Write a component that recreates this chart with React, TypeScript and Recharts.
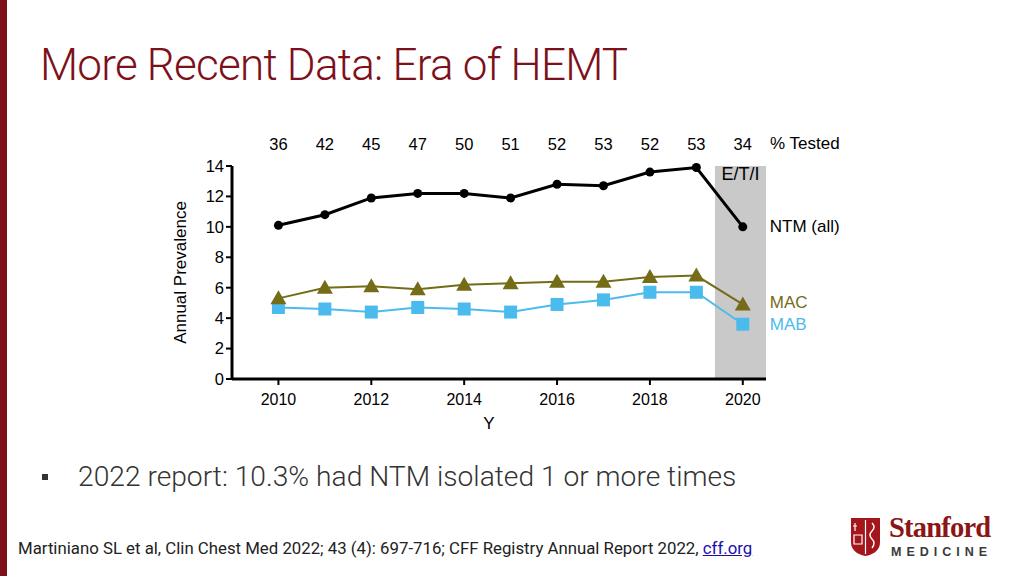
import React from 'react';
import {
  LineChart,
  Line,
  XAxis,
  YAxis,
  ReferenceArea,
  LabelList,
} from 'recharts';

const years = [2010, 2011, 2012, 2013, 2014, 2015, 2016, 2017, 2018, 2019, 2020];
const pctTested = [36, 42, 45, 47, 50, 51, 52, 53, 52, 53, 34];
const ntmAll = [10.1, 10.8, 11.9, 12.2, 12.2, 11.9, 12.8, 12.7, 13.6, 13.9, 10.0];
const macValues = [5.3, 6.0, 6.1, 5.9, 6.2, 6.3, 6.4, 6.4, 6.7, 6.8, 4.9];
const mabValues = [4.7, 4.6, 4.4, 4.7, 4.6, 4.4, 4.9, 5.2, 5.7, 5.7, 3.6];
const yTicks = [0, 2, 4, 6, 8, 10, 12, 14];
const xTicks = [2010, 2012, 2014, 2016, 2018, 2020];

const colors = {
  cardinal: '#7d1019',
  ntm: '#000000',
  mac: '#756c17',
  mab: '#4bbbee',
  band: '#c9c9c9',
  text: '#333333',
};

const chartFont = '"Liberation Sans", Arial, sans-serif';

const data = years.map((year, i) => ({
  year,
  tested: pctTested[i],
  ntm: ntmAll[i],
  mac: macValues[i],
  mab: mabValues[i],
}));

const lastIdx = years.length - 1;

function endLabel(text: string, color: string, dy = 0) {
  return (props: any) => {
    if (props.index !== lastIdx) return null;
    return (
      <text
        x={props.x + 27}
        y={props.y + dy}
        fill={color}
        fontSize={17}
        fontFamily={chartFont}
        dominantBaseline="central"
      >
        {text}
      </text>
    );
  };
}

const circleDot = (props: any) => (
  <circle key={`ntm-${props.index}`} cx={props.cx} cy={props.cy} r={4.5} fill={colors.ntm} />
);

const triangleDot = (props: any) => {
  const { cx, cy } = props;
  return (
    <polygon
      key={`mac-${props.index}`}
      points={`${cx},${cy - 8} ${cx - 8},${cy + 6} ${cx + 8},${cy + 6}`}
      fill={colors.mac}
    />
  );
};

const squareDot = (props: any) => (
  <rect
    key={`mab-${props.index}`}
    x={props.cx - 6.5}
    y={props.cy - 6.5}
    width={13}
    height={13}
    fill={colors.mab}
  />
);

function StanfordLogo() {
  return (
    <div style={{ position: 'absolute', left: 850, top: 517, width: 150, height: 46 }}>
      <svg width={32} height={40} style={{ position: 'absolute', left: 0, top: 0 }}>
        <path d="M1 1 H30 V25 Q30 36 15.5 39 Q1 36 1 25 Z" fill="#a4161c" />
        <path d="M15.5 3 V37" stroke="#fff" strokeWidth={1.2} />
        <path d="M5 6 V14 M3 9 H7 M4 18 H12 V27 H4 Z" stroke="#fff" strokeWidth={1.2} fill="none" />
        <path d="M22 6 Q26 10 22 14 Q18 18 22 22 Q26 26 22 31" stroke="#fff" strokeWidth={1.4} fill="none" />
      </svg>
      <div
        style={{
          position: 'absolute',
          left: 39,
          top: -5,
          fontFamily: '"Liberation Serif", "DejaVu Serif", serif',
          fontSize: 28.5,
          fontWeight: 700,
          color: '#8c1515',
          letterSpacing: -0.8,
        }}
      >
        Stanford
      </div>
      <div
        style={{
          position: 'absolute',
          left: 41,
          top: 28,
          fontFamily: '"Liberation Sans", Arial, sans-serif',
          fontSize: 12.5,
          fontWeight: 700,
          color: '#3a3a3a',
          letterSpacing: 5,
        }}
      >
        MEDICINE
      </div>
    </div>
  );
}

export default function App() {
  return (
    <div
      style={{
        position: 'absolute',
        left: 0,
        top: 0,
        width: 1024,
        height: 576,
        background: '#fff',
        overflow: 'hidden',
      }}
    >
      <div
        style={{
          position: 'absolute',
          left: 0,
          top: 0,
          width: 7,
          height: 576,
          background: colors.cardinal,
        }}
      />
      <div
        style={{
          position: 'absolute',
          left: 40,
          top: 39,
          fontFamily: 'Roboto, sans-serif',
          fontWeight: 300,
          fontSize: 44,
          letterSpacing: -0.75,
          color: colors.cardinal,
          whiteSpace: 'nowrap',
        }}
      >
        More Recent Data: Era of HEMT
      </div>

      <div style={{ position: 'absolute', left: 0, top: 0 }}>
        <LineChart
          width={1024}
          height={576}
          data={data}
          margin={{ top: 120, right: 258, bottom: 142, left: 172 }}
        >
          <XAxis
            xAxisId="top"
            orientation="top"
            dataKey="year"
            type="number"
            domain={[2009, 2020.5]}
            ticks={years}
            tickFormatter={(v: number) => String(pctTested[years.indexOf(v)] ?? '')}
            axisLine={false}
            tickLine={false}
            tickMargin={10}
            height={46}
            tick={{ fill: '#000', fontSize: 16.5, fontFamily: chartFont }}
            label={{
              value: '% Tested',
              position: 'right',
              offset: 4,
              fill: '#000',
              fontSize: 17,
              fontFamily: chartFont,
            }}
          />
          <XAxis
            dataKey="year"
            type="number"
            domain={[2009, 2020.5]}
            ticks={xTicks}
            height={55}
            axisLine={{ stroke: '#000', strokeWidth: 3 }}
            tickLine={{ stroke: '#000', strokeWidth: 2 }}
            tickSize={6}
            tickMargin={9}
            tick={{ fill: '#000', fontSize: 16, fontFamily: chartFont }}
            label={{
              value: 'Y',
              position: 'insideBottom',
              offset: 5,
              dx: -10,
              fill: '#000',
              fontSize: 17,
              fontFamily: chartFont,
            }}
          />
          <YAxis
            domain={[0, 14]}
            ticks={yTicks}
            width={60}
            axisLine={{ stroke: '#000', strokeWidth: 3 }}
            tickLine={{ stroke: '#000', strokeWidth: 2 }}
            tickSize={6}
            tick={{ fill: '#000', fontSize: 16.5, fontFamily: chartFont }}
            label={{
              value: 'Annual Prevalence',
              angle: -90,
              position: 'insideLeft',
              offset: 8,
              style: { textAnchor: 'middle' },
              fill: '#000',
              fontSize: 17,
              fontFamily: chartFont,
            }}
          />
          <ReferenceArea
            x1={2019.4}
            x2={2020.5}
            y1={0}
            y2={14}
            fill={colors.band}
            fillOpacity={1}
            stroke="none"
            label={{
              value: 'E/T/I',
              position: 'insideTop',
              offset: 1,
              fill: '#000',
              fontSize: 18,
              fontFamily: chartFont,
            }}
          />
          <Line
            type="linear"
            dataKey="mab"
            stroke={colors.mab}
            strokeWidth={2}
            dot={squareDot}
            activeDot={false}
            isAnimationActive={false}
          >
            <LabelList dataKey="mab" content={endLabel('MAB', colors.mab)} />
          </Line>
          <Line
            type="linear"
            dataKey="mac"
            stroke={colors.mac}
            strokeWidth={2}
            dot={triangleDot}
            activeDot={false}
            isAnimationActive={false}
          >
            <LabelList dataKey="mac" content={endLabel('MAC', colors.mac, -2)} />
          </Line>
          <Line
            type="linear"
            dataKey="ntm"
            stroke={colors.ntm}
            strokeWidth={3}
            dot={circleDot}
            activeDot={false}
            isAnimationActive={false}
          >
            <LabelList dataKey="ntm" content={endLabel('NTM (all)', colors.ntm)} />
          </Line>
        </LineChart>
      </div>

      <div
        style={{
          position: 'absolute',
          left: 42,
          top: 474,
          width: 6,
          height: 6,
          background: '#333',
        }}
      />
      <div
        style={{
          position: 'absolute',
          left: 78,
          top: 460,
          fontFamily: 'Roboto, sans-serif',
          fontWeight: 300,
          fontSize: 28.2,
          color: colors.text,
          whiteSpace: 'nowrap',
        }}
      >
        2022 report: 10.3% had NTM isolated 1 or more times
      </div>
      <div
        style={{
          position: 'absolute',
          left: 18,
          top: 538,
          fontFamily: 'Roboto, sans-serif',
          fontSize: 16.8,
          color: '#222',
          whiteSpace: 'nowrap',
        }}
      >
        Martiniano SL et al, Clin Chest Med 2022; 43 (4): 697-716; CFF Registry Annual Report 2022,{' '}
        <span style={{ color: '#1a0dab', textDecoration: 'underline' }}>cff.org</span>
      </div>
      <StanfordLogo />
    </div>
  );
}
